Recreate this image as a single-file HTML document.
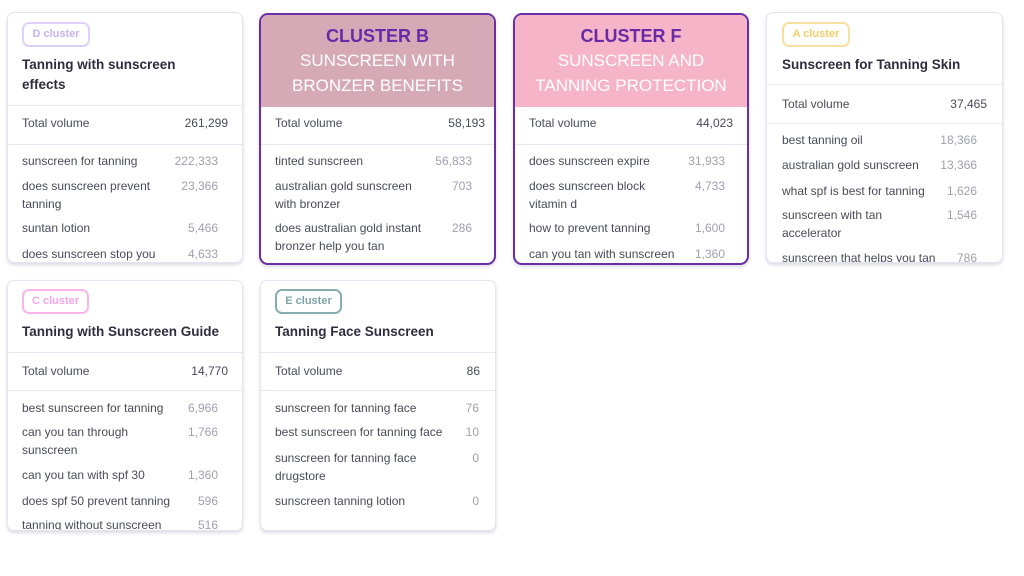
<!DOCTYPE html>
<html><head><meta charset="utf-8"><style>
*{margin:0;padding:0;box-sizing:border-box}
body{width:1024px;height:576px;background:#fff;position:relative;overflow:hidden;font-family:"Liberation Sans",sans-serif}
.card{position:absolute;background:#fff;border:1px solid #e6e3f0;border-radius:7px;box-shadow:0 2px 3px rgba(120,110,150,.25);overflow:hidden}
.sel{border:2px solid #6a2ea6;border-radius:9px}
.t{position:absolute;white-space:nowrap;font-size:12px;line-height:16px;color:#4a4a5a}
.n{position:absolute;white-space:nowrap;font-size:12px;line-height:16px;color:#a09fb0;text-align:right}
.tv{color:#4a4a5a}
.ti{position:absolute;white-space:nowrap;font-size:13.5px;font-weight:bold;line-height:20px;color:#2f2d3d}
.sep{position:absolute;height:1px;background:#e8e6f2}
.badge{position:absolute;border:2px solid;border-radius:7px;font-size:11px;font-weight:bold;text-align:center;line-height:21px;height:25px}
.h{position:absolute;text-align:center;white-space:nowrap;font-size:17px;line-height:22px;color:#fff}
.hc{color:#6a2aa8;font-weight:bold;font-size:18px}
</style></head><body>

<!-- D -->
<div class="card" style="left:7px;top:12px;width:236px;height:251px"></div>
<div class="badge" style="left:22px;top:22px;width:68px;border-color:#ddd0fb;color:#c8b2f5">D cluster</div>
<div class="ti" style="left:22px;top:55px">Tanning with sunscreen</div>
<div class="ti" style="left:22px;top:75px">effects</div>
<div class="sep" style="left:8px;top:105px;width:234px"></div>
<div class="t" style="left:22px;top:115px">Total volume</div>
<div class="n tv" style="right:796px;top:115px">261,299</div>
<div class="sep" style="left:8px;top:144px;width:234px"></div>
<div class="t" style="left:22px;top:153px">sunscreen for tanning</div><div class="n" style="right:806px;top:153px">222,333</div>
<div class="t" style="left:22px;top:178px">does sunscreen prevent</div><div class="n" style="right:806px;top:178px">23,366</div>
<div class="t" style="left:22px;top:196px">tanning</div>
<div class="t" style="left:22px;top:220px">suntan lotion</div><div class="n" style="right:806px;top:220px">5,466</div>
<div class="t" style="left:22px;top:246px;height:15px;overflow:hidden">does sunscreen stop you</div><div class="n" style="right:806px;top:246px;height:15px;overflow:hidden">4,633</div>

<!-- B -->
<div class="card sel" style="left:259px;top:13px;width:237px;height:252px">
<div style="position:absolute;left:0;top:0;width:233px;height:92px;background:#d5aab6"></div></div>
<div class="h hc" style="left:259px;width:237px;top:25px">CLUSTER B</div>
<div class="h" style="left:259px;width:237px;top:50px">SUNSCREEN WITH</div>
<div class="h" style="left:259px;width:237px;top:75px">BRONZER BENEFITS</div>
<div class="t" style="left:275px;top:115px">Total volume</div>
<div class="n tv" style="right:539px;top:115px">58,193</div>
<div class="sep" style="left:261px;top:144px;width:233px"></div>
<div class="t" style="left:275px;top:153px">tinted sunscreen</div><div class="n" style="right:552px;top:153px">56,833</div>
<div class="t" style="left:275px;top:178px">australian gold sunscreen</div><div class="n" style="right:552px;top:178px">703</div>
<div class="t" style="left:275px;top:196px">with bronzer</div>
<div class="t" style="left:275px;top:220px">does australian gold instant</div><div class="n" style="right:552px;top:220px">286</div>
<div class="t" style="left:275px;top:238px">bronzer help you tan</div>

<!-- F -->
<div class="card sel" style="left:513px;top:13px;width:236px;height:252px">
<div style="position:absolute;left:0;top:0;width:232px;height:92px;background:#f5b4c7"></div></div>
<div class="h hc" style="left:513px;width:236px;top:25px">CLUSTER F</div>
<div class="h" style="left:513px;width:236px;top:50px">SUNSCREEN AND</div>
<div class="h" style="left:513px;width:236px;top:75px">TANNING PROTECTION</div>
<div class="t" style="left:529px;top:115px">Total volume</div>
<div class="n tv" style="right:291px;top:115px">44,023</div>
<div class="sep" style="left:515px;top:144px;width:232px"></div>
<div class="t" style="left:529px;top:153px">does sunscreen expire</div><div class="n" style="right:299px;top:153px">31,933</div>
<div class="t" style="left:529px;top:178px">does sunscreen block</div><div class="n" style="right:299px;top:178px">4,733</div>
<div class="t" style="left:529px;top:196px">vitamin d</div>
<div class="t" style="left:529px;top:220px">how to prevent tanning</div><div class="n" style="right:299px;top:220px">1,600</div>
<div class="t" style="left:529px;top:246px;height:15px;overflow:hidden">can you tan with sunscreen</div><div class="n" style="right:299px;top:246px;height:15px;overflow:hidden">1,360</div>

<!-- A -->
<div class="card" style="left:766px;top:12px;width:237px;height:251px"></div>
<div class="badge" style="left:782px;top:22px;width:68px;border-color:#f8e0a0;color:#f3cd6a">A cluster</div>
<div class="ti" style="left:782px;top:55px">Sunscreen for Tanning Skin</div>
<div class="sep" style="left:767px;top:84px;width:235px"></div>
<div class="t" style="left:782px;top:96px">Total volume</div>
<div class="n tv" style="right:37px;top:96px">37,465</div>
<div class="sep" style="left:767px;top:123px;width:235px"></div>
<div class="t" style="left:782px;top:132px">best tanning oil</div><div class="n" style="right:47px;top:132px">18,366</div>
<div class="t" style="left:782px;top:157px">australian gold sunscreen</div><div class="n" style="right:47px;top:157px">13,366</div>
<div class="t" style="left:782px;top:183px">what spf is best for tanning</div><div class="n" style="right:47px;top:183px">1,626</div>
<div class="t" style="left:782px;top:207px">sunscreen with tan</div><div class="n" style="right:47px;top:207px">1,546</div>
<div class="t" style="left:782px;top:225px">accelerator</div>
<div class="t" style="left:782px;top:250px;height:12px;overflow:hidden">sunscreen that helps you tan</div><div class="n" style="right:47px;top:250px;height:12px;overflow:hidden">786</div>

<!-- C -->
<div class="card" style="left:7px;top:280px;width:236px;height:251px"></div>
<div class="badge" style="left:22px;top:289px;width:67px;border-color:#f8b6ea;color:#f5a3e3">C cluster</div>
<div class="ti" style="left:22px;top:322px">Tanning with Sunscreen Guide</div>
<div class="sep" style="left:8px;top:352px;width:234px"></div>
<div class="t" style="left:22px;top:363px">Total volume</div>
<div class="n tv" style="right:796px;top:363px">14,770</div>
<div class="sep" style="left:8px;top:390px;width:234px"></div>
<div class="t" style="left:22px;top:400px">best sunscreen for tanning</div><div class="n" style="right:806px;top:400px">6,966</div>
<div class="t" style="left:22px;top:424px">can you tan through</div><div class="n" style="right:806px;top:424px">1,766</div>
<div class="t" style="left:22px;top:442px">sunscreen</div>
<div class="t" style="left:22px;top:467px">can you tan with spf 30</div><div class="n" style="right:806px;top:467px">1,360</div>
<div class="t" style="left:22px;top:493px">does spf 50 prevent tanning</div><div class="n" style="right:806px;top:493px">596</div>
<div class="t" style="left:22px;top:517px;height:13px;overflow:hidden">tanning without sunscreen</div><div class="n" style="right:806px;top:517px;height:13px;overflow:hidden">516</div>

<!-- E -->
<div class="card" style="left:260px;top:280px;width:236px;height:251px"></div>
<div class="badge" style="left:275px;top:289px;width:67px;border-color:#86aeb0;color:#7fa4a6">E cluster</div>
<div class="ti" style="left:275px;top:322px">Tanning Face Sunscreen</div>
<div class="sep" style="left:261px;top:352px;width:234px"></div>
<div class="t" style="left:275px;top:363px">Total volume</div>
<div class="n tv" style="right:544px;top:363px">86</div>
<div class="sep" style="left:261px;top:390px;width:234px"></div>
<div class="t" style="left:275px;top:400px">sunscreen for tanning face</div><div class="n" style="right:545px;top:400px">76</div>
<div class="t" style="left:275px;top:424px">best sunscreen for tanning face</div><div class="n" style="right:545px;top:424px">10</div>
<div class="t" style="left:275px;top:450px">sunscreen for tanning face</div><div class="n" style="right:545px;top:450px">0</div>
<div class="t" style="left:275px;top:468px">drugstore</div>
<div class="t" style="left:275px;top:493px">sunscreen tanning lotion</div><div class="n" style="right:545px;top:493px">0</div>

</body></html>
